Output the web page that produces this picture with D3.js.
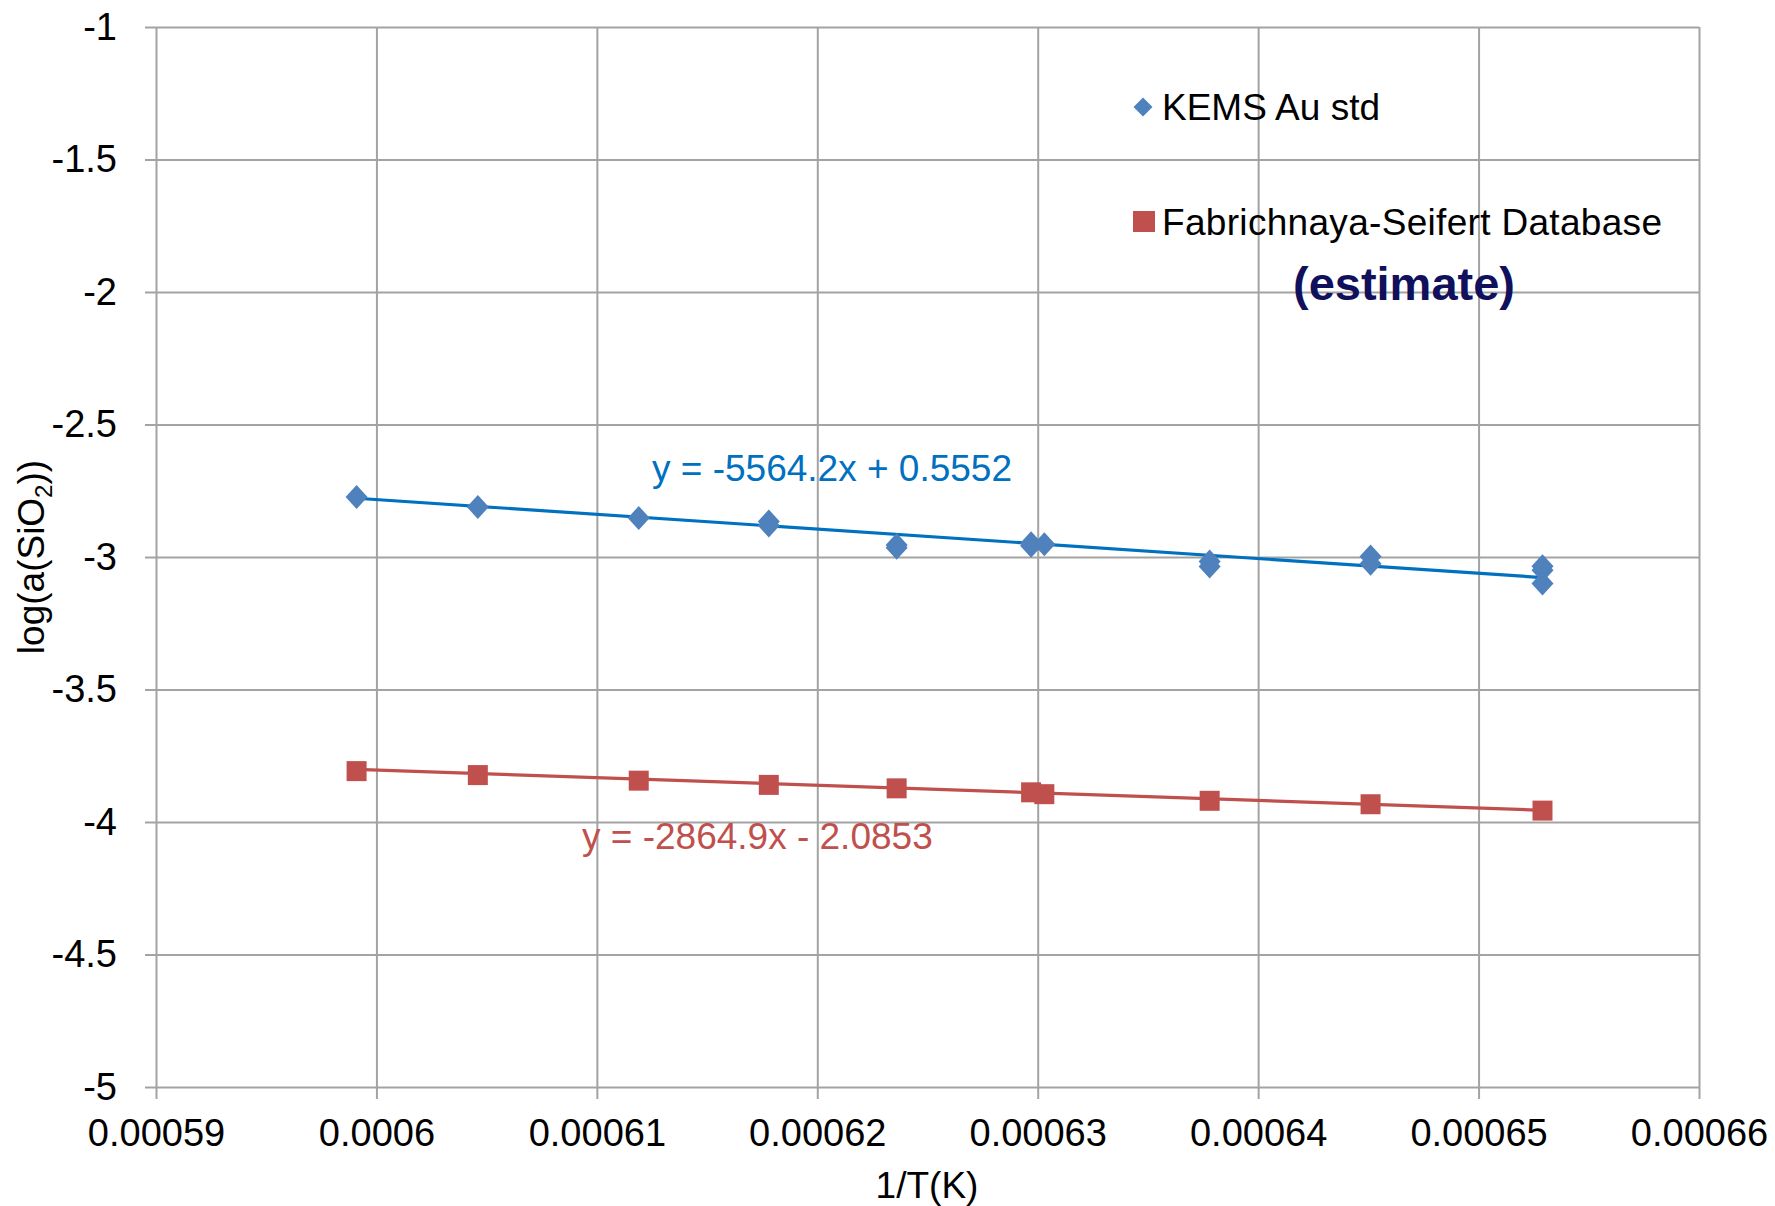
<!DOCTYPE html>
<html>
<head>
<meta charset="utf-8">
<script src="https://cdn.jsdelivr.net/npm/d3@7"></script>
<style>
  body { margin: 0; background: #fff; }
  svg { display: block; font-family: "Liberation Sans", Arial, sans-serif; }
</style>
</head>
<body>
<svg id="chart" width="1775" height="1206"></svg>
<script>
// --- data ---
const kemsX = [0.0005991, 0.0006046, 0.0006119, 0.0006178, 0.0006178, 0.0006236, 0.0006236,
               0.0006297, 0.0006297, 0.0006303, 0.0006378, 0.0006378, 0.0006451, 0.0006451,
               0.0006529, 0.0006529, 0.0006529];
const kemsY = [-2.774, -2.811, -2.853, -2.866, -2.881, -2.955, -2.965,
               -2.948, -2.958, -2.952, -3.017, -3.036, -2.998, -3.025,
               -3.035, -3.05, -3.10];
const fsX = [0.0005991, 0.0006046, 0.0006119, 0.0006178, 0.0006236, 0.0006297, 0.0006303,
             0.0006378, 0.0006451, 0.0006529];
const fsY = [-3.808, -3.823, -3.844, -3.860, -3.873, -3.888, -3.895, -3.920, -3.933, -3.957];

// trendline coefficients [slope, intercept]
const kemsFit = [-5564.2, 0.5552];
const fsFit = [-2864.9, -2.0853];

const xTicks = [0.00059, 0.0006, 0.00061, 0.00062, 0.00063, 0.00064, 0.00065, 0.00066];
const xTickLabels = ["0.00059", "0.0006", "0.00061", "0.00062", "0.00063", "0.00064", "0.00065", "0.00066"];
const yTicks = [-1, -1.5, -2, -2.5, -3, -3.5, -4, -4.5, -5];
const yTickLabels = ["-1", "-1.5", "-2", "-2.5", "-3", "-3.5", "-4", "-4.5", "-5"];

// --- layout ---
const pLeft = 156, pRight = 1699, pTop = 27, pBottom = 1087;
const w = pRight - pLeft, h = pBottom - pTop;
const blue = "#4F81BD", red = "#C0504D", trendBlue = "#0070C0";

const svg = d3.select("#chart");
const x = d3.scaleLinear().domain([0.00059, 0.00066]).range([pLeft, pRight]);
const y = d3.scaleLinear().domain([-5, -1]).range([pBottom, pTop]);

// grid + axes
const yAxis = d3.axisLeft(y)
  .tickValues(yTicks)
  .tickFormat((d, i) => yTickLabels[i])
  .tickSize(-(w + 11))
  .tickPadding(28);
const gy = svg.append("g").attr("transform", `translate(${pLeft - 11},0)`).call(yAxis);

const xAxis = d3.axisBottom(x)
  .tickValues(xTicks)
  .tickFormat((d, i) => xTickLabels[i])
  .tickSize(-(h + 12))
  .tickPadding(20);
const gx = svg.append("g").attr("transform", `translate(0,${pBottom + 12})`).call(xAxis);

[gx, gy].forEach(g => {
  g.select(".domain").remove();
  g.selectAll(".tick line").attr("stroke", "#a3a3a3").attr("stroke-width", 2);
  g.selectAll(".tick text").attr("fill", "#000").style("font-size", "38px")
    .style("font-family", "'Liberation Sans', Arial, sans-serif");
});

// trend lines
function trend(xs, fit, color) {
  const x0 = d3.min(xs), x1 = d3.max(xs);
  svg.append("line")
    .attr("x1", x(x0)).attr("y1", y(fit[0] * x0 + fit[1]))
    .attr("x2", x(x1)).attr("y2", y(fit[0] * x1 + fit[1]))
    .attr("stroke", color).attr("stroke-width", 3.2);
}
trend(kemsX, kemsFit, trendBlue);
trend(fsX, fsFit, red);

// markers
const diamondPath = (rx, ry) => `M0,${-ry}L${rx},0L0,${ry}L${-rx},0Z`;
svg.append("g").selectAll("path")
  .data(kemsX.map((v, i) => [v, kemsY[i]]))
  .join("path")
  .attr("d", diamondPath(11, 12))
  .attr("transform", d => `translate(${x(d[0])},${y(d[1])})`)
  .attr("fill", blue);

svg.append("g").selectAll("rect")
  .data(fsX.map((v, i) => [v, fsY[i]]))
  .join("rect")
  .attr("x", d => x(d[0]) - 10).attr("y", d => y(d[1]) - 10)
  .attr("width", 20).attr("height", 20)
  .attr("fill", red);

// equations
svg.append("text").attr("x", 652).attr("y", 481)
  .attr("fill", trendBlue).style("font-size", "37px")
  .text("y = -5564.2x + 0.5552");
svg.append("text").attr("x", 582).attr("y", 849)
  .attr("fill", red).style("font-size", "37px")
  .text("y = -2864.9x - 2.0853");

// legend
svg.append("path").attr("d", diamondPath(9.5, 9.5))
  .attr("transform", "translate(1143,107)").attr("fill", blue);
svg.append("text").attr("x", 1162).attr("y", 120)
  .style("font-size", "37px").attr("fill", "#000").attr("textLength", 218)
  .text("KEMS Au std");
svg.append("rect").attr("x", 1133).attr("y", 211).attr("width", 22).attr("height", 21).attr("fill", red);
svg.append("text").attr("x", 1162).attr("y", 235)
  .style("font-size", "37px").attr("fill", "#000").attr("textLength", 500)
  .text("Fabrichnaya-Seifert Database");
svg.append("text").attr("x", 1404).attr("y", 300).attr("text-anchor", "middle")
  .style("font-size", "47px").style("font-weight", "bold").attr("fill", "#10105c")
  .text("(estimate)");

// axis titles
svg.append("text").attr("x", 927).attr("y", 1198).attr("text-anchor", "middle")
  .style("font-size", "37px").text("1/T(K)");
const yl = svg.append("text").attr("transform", "translate(44,557) rotate(-90)")
  .attr("text-anchor", "middle").style("font-size", "37px");
yl.append("tspan").text("log(a(SiO");
yl.append("tspan").attr("dy", 8).style("font-size", "24px").text("2");
yl.append("tspan").attr("dy", -8).text("))");
</script>
</body>
</html>
